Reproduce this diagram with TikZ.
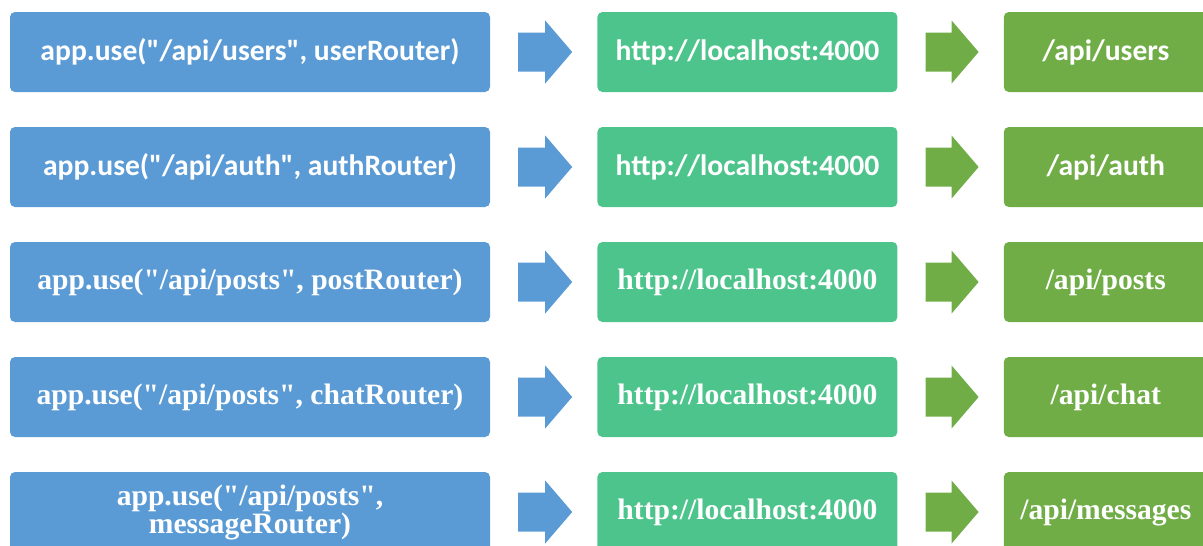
\documentclass[tikz,border=0pt]{standalone}
\usepackage{fontspec}
\newfontfamily\calibrifont{Carlito}
\newfontfamily\timesfont{Liberation Serif}
\usetikzlibrary{positioning,calc}

\definecolor{routeblue}{HTML}{5B9BD5}
\definecolor{hostgreen}{HTML}{4EC48D}
\definecolor{pathgreen}{HTML}{70AD47}

\tikzset{
  box/.style={rounded corners=5pt, minimum height=80pt, inner sep=0pt, text=white, align=center},
  router/.style={box, fill=routeblue, minimum width=480pt},
  host/.style={box, fill=hostgreen, minimum width=300pt},
  endpoint/.style={box, fill=pathgreen, minimum width=204pt},
  sansrow/.style={font=\calibrifont\bfseries\fontsize{29.6}{28}\selectfont},
  serifrow/.style={font=\timesfont\bfseries\fontsize{29.6}{28}\selectfont},
}

% block arrow between two boxes
\newcommand\flow[3]{%
  \path ($(#2.east)+(28,0)$) coordinate (s) ($(#3.west)+(-25,0)$) coordinate (e);
  \fill[#1] (s) ++(0,-19.5) -| ($(e)+(-27,-31.5)$) -- (e) -- ($(e)+(-27,31.5)$) |- ($(s)+(0,19.5)$) -- cycle;
}

\begin{document}
\begin{tikzpicture}[x=1pt,y=-1pt]
    \useasboundingbox (0,0) rectangle (1203,546);
    \clip (0,0) rectangle (1203,546);

    \node[router, sansrow] (use1) at (250,52) {app.use("/api/users", userRouter)};
    \node[host, sansrow, right=107pt of use1] (host1) {http://localhost:4000};
    \node[endpoint, sansrow, right=106pt of host1] (api1) {/api/users};

    \node[router, sansrow] (use2) at (250,167) {app.use("/api/auth", authRouter)};
    \node[host, sansrow, right=107pt of use2] (host2) {http://localhost:4000};
    \node[endpoint, sansrow, right=106pt of host2] (api2) {/api/auth};

    \node[router, serifrow] (use3) at (250,282) {app.use("/api/posts", postRouter)};
    \node[host, serifrow, right=107pt of use3] (host3) {http://localhost:4000};
    \node[endpoint, serifrow, right=106pt of host3] (api3) {/api/posts};

    \node[router, serifrow] (use4) at (250,397) {app.use("/api/posts", chatRouter)};
    \node[host, serifrow, right=107pt of use4] (host4) {http://localhost:4000};
    \node[endpoint, serifrow, right=106pt of host4] (api4) {/api/chat};

    \node[router, serifrow] (use5) at (250,512) {app.use("/api/posts",\\ messageRouter)};
    \node[host, serifrow, right=107pt of use5] (host5) {http://localhost:4000};
    \node[endpoint, serifrow, right=106pt of host5] (api5) {/api/messages};

    \flow{routeblue}{use1}{host1}
    \flow{pathgreen}{host1}{api1}
    \flow{routeblue}{use2}{host2}
    \flow{pathgreen}{host2}{api2}
    \flow{routeblue}{use3}{host3}
    \flow{pathgreen}{host3}{api3}
    \flow{routeblue}{use4}{host4}
    \flow{pathgreen}{host4}{api4}
    \flow{routeblue}{use5}{host5}
    \flow{pathgreen}{host5}{api5}

\end{tikzpicture}
\end{document}
